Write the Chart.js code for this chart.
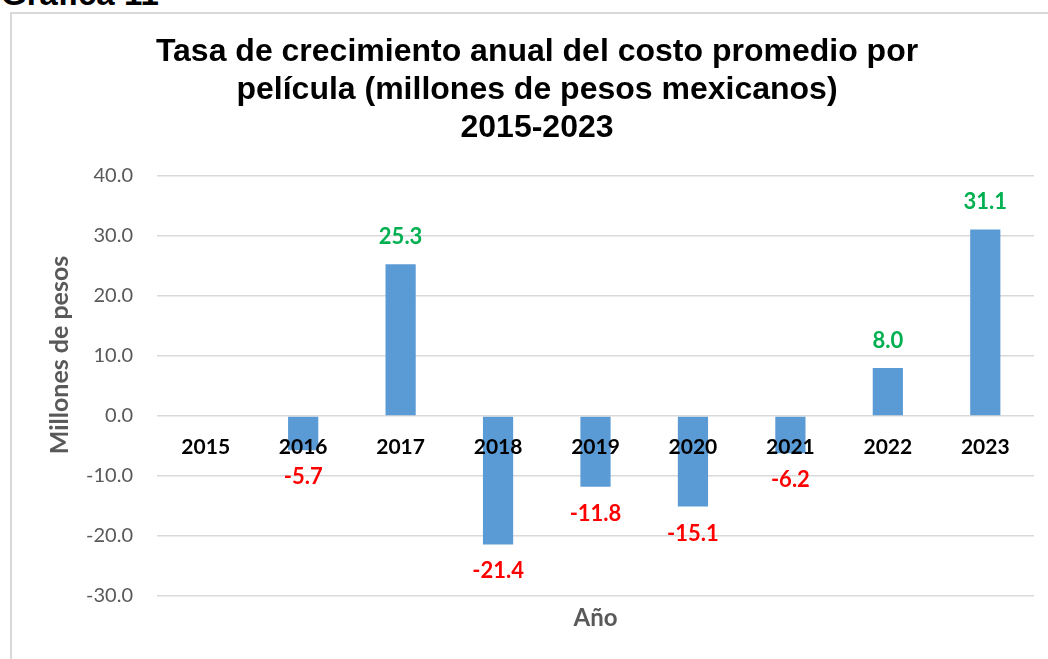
<!DOCTYPE html>
<html>
<head>
<meta charset="utf-8">
<script src="https://cdn.jsdelivr.net/npm/chart.js@4.4.1/dist/chart.umd.min.js"></script>
<style>
  html, body { margin: 0; padding: 0; background: #ffffff; }
  body { width: 1048px; height: 659px; position: relative; overflow: hidden; }
  #heading { position: absolute; left: 1px; top: -22px; font: bold 33px "Liberation Sans", Arial, sans-serif; line-height: 32px; color: #000; white-space: nowrap; }
  #frame { position: absolute; left: 10px; top: 12px; width: 1038px; height: 647px; border-left: 2px solid #d9d9d9; border-top: 2px solid #d9d9d9; box-sizing: border-box; }
  #wrap { position: absolute; left: 12px; top: 14px; width: 1036px; height: 645px; }
</style>
</head>
<body>
<div id="heading">Gráfica 11</div>
<div id="frame"></div>
<div id="wrap"><canvas id="c"></canvas></div>
<script>
const categories = ['2015', '2016', '2017', '2018', '2019', '2020', '2021', '2022', '2023'];
const growthValues = [null, -5.7, 25.3, -21.4, -11.8, -15.1, -6.2, 8.0, 31.1];
const yTicks = { min: -30, max: 40, step: 10 };
const titleLines = ['Tasa de crecimiento anual del costo promedio por', 'película (millones de pesos mexicanos)', '2015-2023'];
const yTitle = 'Millones de pesos';
const xTitle = 'Año';

const valueLabels = {
  id: 'valueLabels',
  afterDatasetsDraw(chart) {
    const ctx = chart.ctx;
    const meta = chart.getDatasetMeta(0);
    const data = chart.data.datasets[0].data;
    ctx.save();
    ctx.font = 'bold 22px Lato';
    ctx.textAlign = 'center';
    ctx.textBaseline = 'middle';
    meta.data.forEach((el, i) => {
      const v = data[i];
      if (v === null || v === undefined) return;
      ctx.fillStyle = v >= 0 ? '#00B050' : '#FF0000';
      const y = v >= 0 ? el.y - 27 : el.y + 27;
      ctx.fillText(v.toFixed(1), el.x, y);
    });
    ctx.restore();
  }
};

const yAxisTitle = {
  id: 'yAxisTitle',
  afterDraw(chart) {
    const ctx = chart.ctx;
    const a = chart.chartArea;
    ctx.save();
    ctx.translate(a.left - 97, a.top + 179);
    ctx.rotate(-Math.PI / 2);
    ctx.font = 'bold 25px Lato';
    ctx.fillStyle = '#595959';
    ctx.textAlign = 'center';
    ctx.textBaseline = 'middle';
    ctx.fillText(yTitle, 0, 0);
    ctx.restore();
  }
};

new Chart(document.getElementById('c'), {
  type: 'bar',
  data: {
    labels: categories,
    datasets: [{
      data: growthValues,
      backgroundColor: '#5B9BD5',
      borderWidth: 0,
      categoryPercentage: 1,
      barPercentage: 0.31
    }]
  },
  options: {
    responsive: true,
    maintainAspectRatio: false,
    animation: false,
    layout: { padding: { left: 28, right: 14, top: 0, bottom: 0 } },
    plugins: {
      legend: { display: false },
      tooltip: { enabled: false },
      title: {
        display: true,
        text: titleLines,
        color: '#000000',
        font: { family: '"Liberation Sans", Arial, sans-serif', size: 32, weight: 'bold', lineHeight: 1.1875 },
        padding: { top: 19, bottom: 29 }
      }
    },
    scales: {
      y: {
        min: yTicks.min,
        max: yTicks.max,
        ticks: {
          stepSize: yTicks.step,
          callback: v => Number(v).toFixed(1),
          color: '#595959',
          font: { family: 'Lato', size: 20 },
          padding: 24
        },
        grid: { color: '#d9d9d9', lineWidth: 1.5, drawTicks: false },
        border: { display: false },
        title: { display: false },
        afterFit(scale) { scale.width = 117; }
      },
      x: {
        type: 'category',
        position: { y: 0 },
        grid: { display: false, drawTicks: false },
        border: { display: false },
        ticks: {
          z: 1,
          color: '#000000',
          font: { family: 'Lato', size: 21, weight: 'bold' },
          padding: 19,
          autoSkip: false,
          maxRotation: 0,
          minRotation: 0
        },
        afterFit(scale) { scale.height = 0; }
      },
      x2: {
        type: 'category',
        labels: categories,
        position: 'bottom',
        grid: { display: false, drawTicks: false },
        border: { display: false },
        ticks: { display: false },
        title: {
          display: true,
          text: xTitle,
          color: '#595959',
          font: { family: 'Lato', size: 24, weight: 'bold' },
          padding: { top: 0, bottom: 26 }
        },
        afterFit(scale) { scale.height = 63; }
      }
    }
  },
  plugins: [valueLabels, yAxisTitle]
});
</script>
</body>
</html>
